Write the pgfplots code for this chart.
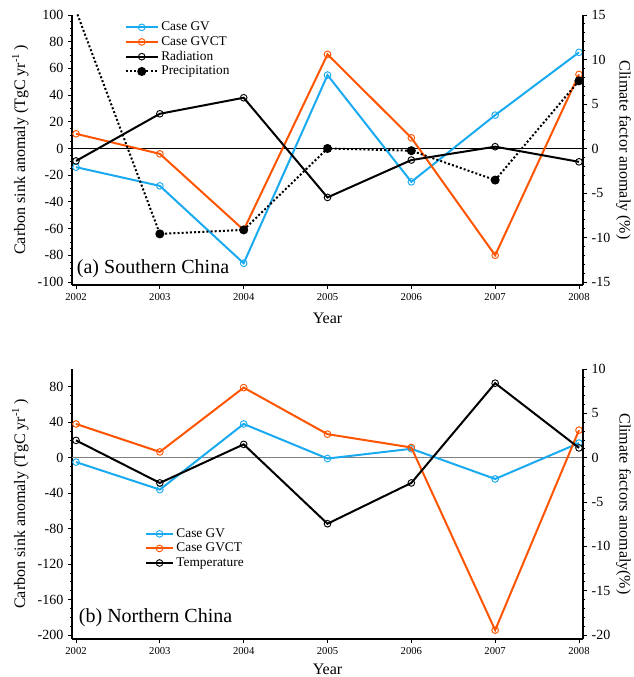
\documentclass[border=0pt]{standalone}
\usepackage{pgfplots}
\pgfplotsset{compat=1.18}
\usepackage{fontspec}
\setmainfont{Liberation Serif}
\definecolor{cgv}{RGB}{25,170,240}
\definecolor{cgvct}{RGB}{255,85,0}
\pgfplotsset{
  base/.style={scale only axis, width=383.25pt, height=202.5pt,
    xmin=2001.952, xmax=2008.048, tick align=outside,
    major tick length=3pt, minor tick length=1.8pt,
    axis line style={-, line width=0.8pt},
    every tick/.style={black, line width=0.6pt},
    /pgf/number format/assume math mode=true,
    /pgf/number format/1000 sep={},
    xtick={2002,2003,2004,2005,2006,2007,2008},
    xticklabel style={font=\fontsize{8}{9}\selectfont},
    yticklabel style={font=\fontsize{10.5}{12}\selectfont},
    label style={font=\fontsize{12}{14}\selectfont},
    clip marker paths=true},
  gv/.style={cgv, line width=1.5pt, mark=o, mark size=2.5pt, mark options={line width=0.7pt}},
  gvct/.style={cgvct, line width=1.5pt, mark=o, mark size=2.5pt, mark options={line width=0.7pt}},
  blk/.style={black, line width=1.5pt, mark=o, mark size=2.5pt, mark options={line width=0.7pt}},
  prc/.style={black, line width=1.5pt, dash pattern=on 1.5pt off 1.6pt, mark=*, mark size=2.6pt, mark options={solid}},
}
\begin{document}
\begin{tikzpicture}
\useasboundingbox (0,0) rectangle (474.75pt,507.75pt);
% ---------------- panel (a)
\begin{axis}[base, at={(54pt,294pt)}, anchor=south west,
  axis x line*=bottom, axis y line*=left,
  ymin=-102.25, ymax=100, ytick={-100,-80,...,100}, minor y tick num=3,
  xlabel={Year}, xlabel shift=2.5pt, ylabel={Carbon sink anomaly (TgC yr\textsuperscript{-1}\,)},
  legend style={draw=none, fill=none, at={(0.095,0.995)}, anchor=north west,
    font=\fontsize{10}{11.5}\selectfont, row sep=-1.2pt},
  legend cell align=left,
  legend image code/.code={\draw[mark repeat=2,mark phase=2,#1] plot coordinates {(0cm,0cm) (0.42cm,0cm) (0.84cm,0cm)};}]
\addplot[black, line width=0.6pt, forget plot] coordinates {(2001.9,0) (2008.1,0)};
\addplot[gv] coordinates {(2002,-14) (2003,-28) (2004,-86) (2005,55) (2006,-25) (2007,25) (2008,72)};
\addlegendentry{Case GV}
\addplot[gvct] coordinates {(2002,11) (2003,-4) (2004,-61) (2005,70.5) (2006,8) (2007,-80) (2008,55.5)};
\addlegendentry{Case GVCT}
\addlegendimage{blk}
\addlegendentry{Radiation}
\addlegendimage{prc}
\addlegendentry{Precipitation}
\end{axis}
\begin{axis}[base, at={(54pt,294pt)}, anchor=south west,
  axis x line=none, axis y line*=right,
  ymin=-15.34, ymax=15, ytick={-15,-10,...,15}, minor y tick num=4,
  ylabel={Climate factor anomaly (\%)}, ylabel style={rotate=180}, ylabel shift=-2.5pt]
\addplot[blk] coordinates {(2002,-1.4) (2003,3.9) (2004,5.7) (2005,-5.5) (2006,-1.3) (2007,0.2) (2008,-1.5)};
\addplot[prc] coordinates {(2002,15.5) (2003,-9.6) (2004,-9.15) (2005,0) (2006,-0.25) (2007,-3.55) (2008,7.6)};
\end{axis}
\node[anchor=west, font=\fontsize{15}{17}\selectfont, inner sep=0pt] at (57.5pt,306pt) {(a) Southern China};
% ---------------- panel (b)
\begin{axis}[base, at={(54pt,28.5pt)}, anchor=south west,
  axis x line*=bottom, axis y line*=left,
  ymin=-204.5, ymax=100, ytick={-200,-160,...,80}, minor y tick num=3,
  xlabel={Year}, ylabel={Carbon sink anomaly (TgC yr\textsuperscript{-1}\,)},
  legend style={draw=none, fill=none, at={(0.135,0.43)}, anchor=north west,
    font=\fontsize{10}{11.5}\selectfont, row sep=-1.2pt},
  legend cell align=left,
  legend image code/.code={\draw[mark repeat=2,mark phase=2,#1] plot coordinates {(0cm,0cm) (0.35cm,0cm) (0.7cm,0cm)};}]
\addplot[gray, line width=1.1pt, forget plot] coordinates {(2001.9,0) (2008.1,0)};
\addplot[gv] coordinates {(2002,-5) (2003,-36) (2004,38) (2005,-1) (2006,10) (2007,-24) (2008,16.5)};
\addlegendentry{Case GV}
\addplot[gvct] coordinates {(2002,38) (2003,6.5) (2004,79) (2005,26.5) (2006,11.5) (2007,-194.5) (2008,31)};
\addlegendentry{Case GVCT}
\addlegendimage{blk}
\addlegendentry{Temperature}
\end{axis}
\begin{axis}[base, at={(54pt,28.5pt)}, anchor=south west,
  axis x line=none, axis y line*=right,
  ymin=-20.45, ymax=10, ytick={-20,-15,...,10}, minor y tick num=4,
  ylabel={Climate factors anomaly(\%)}, ylabel style={rotate=180}, ylabel shift=-2.5pt]
\addplot[blk] coordinates {(2002,1.95) (2003,-2.85) (2004,1.5) (2005,-7.45) (2006,-2.85) (2007,8.4) (2008,1.1)};
\end{axis}
\node[anchor=west, font=\fontsize{15}{17}\selectfont, inner sep=0pt] at (59pt,44.25pt) {(b) Northern China};
\end{tikzpicture}
\end{document}
